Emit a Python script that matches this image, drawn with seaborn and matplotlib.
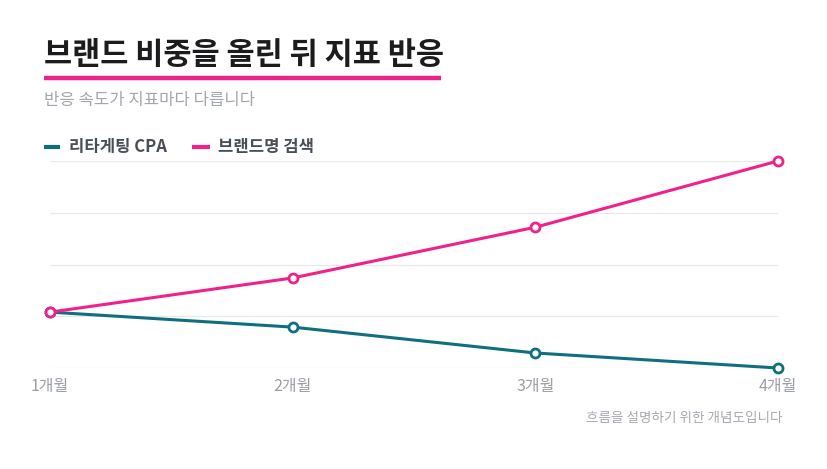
import matplotlib
matplotlib.use("Agg")
import matplotlib.pyplot as plt
import seaborn as sns
import pandas as pd
from matplotlib.lines import Line2D

months = ["1개월", "2개월", "3개월", "4개월"]
cpa = [1.08, 0.79, 0.29, 0.0]
brand = [1.08, 1.74, 2.72, 4.0]
series_names = ["리타게팅 CPA", "브랜드명 검색"]
colors = ["#0f6f7f", "#f0218b"]

sns.set_theme(style="white")
plt.rcParams['font.family'] = ['Noto Sans CJK KR', 'DejaVu Sans']

rows = []
for i, m in enumerate(months):
    rows.append({"x": i, "value": cpa[i], "series": series_names[0]})
    rows.append({"x": i, "value": brand[i], "series": series_names[1]})
df = pd.DataFrame(rows)

W, H = 828, 469
fig = plt.figure(figsize=(W / 100, H / 100), dpi=100)
ax = fig.add_axes([50 / W, 1 - 368 / H, (778 - 50) / W, (368 - 161) / H])

sns.lineplot(data=df, x="x", y="value", hue="series", palette=dict(zip(series_names, colors)),
             marker="o", markersize=6.5, markerfacecolor="white", markeredgewidth=2,
             linewidth=2.2, ax=ax, legend=False, clip_on=False)
for ln in ax.lines:
    ln.set_markeredgecolor(ln.get_color())
    ln.set_clip_on(False)
    ln.set_zorder(5)

ax.set_xlim(0, 3)
ax.set_ylim(0, 4)
ax.set_yticks([0, 1, 2, 3, 4])
ax.set_yticklabels([])
ax.set_xticks(range(len(months)))
ax.set_xticklabels(months, color="#9a9fa6", fontsize=11.5)
ax.tick_params(axis="x", length=0, pad=7)
ax.tick_params(axis="y", length=0)
ax.grid(axis="y", color="#e9e9e9", linewidth=0.9)
ax.grid(axis="x", visible=False)
for s in ax.spines.values():
    s.set_visible(False)
ax.set_xlabel("")
ax.set_ylabel("")

# title
fig.text(44 / W, 1 - 55 / H, "브랜드 비중을 올린 뒤 지표 반응", fontsize=22, fontweight="bold",
         color="#1c1c1e", va="center", ha="left")
fig.add_artist(Line2D([44 / W, 441 / W], [1 - 78 / H, 1 - 78 / H], color="#f0218b",
                      linewidth=3.2, solid_capstyle="butt"))
fig.text(44 / W, 1 - 100 / H, "반응 속도가 지표마다 다릅니다", fontsize=12, color="#a3a7ad",
         va="center", ha="left")

# legend
ly = 1 - 147 / H
fig.add_artist(Line2D([44 / W, 60 / W], [ly, ly], color=colors[0], linewidth=3, solid_capstyle="butt"))
fig.text(69 / W, ly, series_names[0], fontsize=12, color="#4a4f57", fontweight="semibold", va="center", ha="left")
fig.add_artist(Line2D([192 / W, 210 / W], [ly, ly], color=colors[1], linewidth=3, solid_capstyle="butt"))
fig.text(218 / W, ly, series_names[1], fontsize=12, color="#4a4f57", fontweight="semibold", va="center", ha="left")

fig.text(783 / W, 1 - 418 / H, "흐름을 설명하기 위한 개념도입니다", fontsize=9.8, color="#a6aab0",
         va="center", ha="right")

fig.savefig("out.png", dpi=100, facecolor="white")
